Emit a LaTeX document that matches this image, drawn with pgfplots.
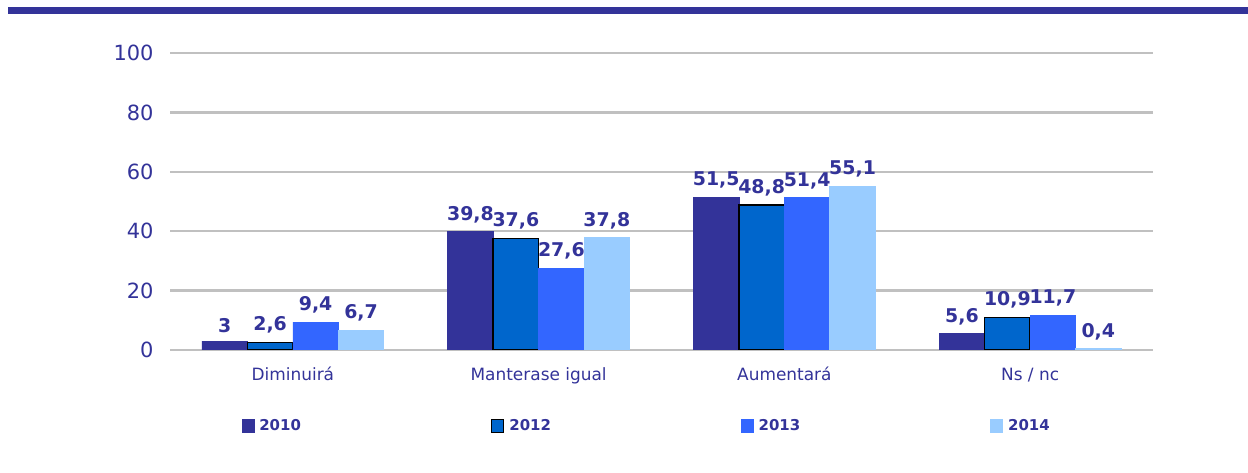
\documentclass[border=0pt]{standalone}
\usepackage{fontspec}
\setmainfont{DejaVu Sans}
\usepackage{pgfplots}
\pgfplotsset{compat=1.18}
\definecolor{cA}{HTML}{333399}
\definecolor{cB}{HTML}{0066CC}
\definecolor{cC}{HTML}{3366FF}
\definecolor{cD}{HTML}{99CCFF}
\definecolor{gridc}{HTML}{C0C0C0}
\begin{document}
\begin{tikzpicture}[x=1bp,y=1bp]
\useasboundingbox (0,0) rectangle (1248,473);
\fill[cA] (8,459) rectangle (1248,466);
\begin{axis}[
  at={(170bp,123bp)}, anchor=south west,
  scale only axis, width=983bp, height=297bp,
  xmin=-0.5, xmax=3.5, ymin=0, ymax=100,
  ybar=0pt,
  ytick={0,20,40,60,80,100},
  xtick={0,1,2,3},
  xticklabels={Diminuirá, Manterase igual, Aumentará, Ns / nc},
  ymajorgrids, grid style={line width=2.5bp, color=gridc},
  axis line style={draw=none},
  major tick length=0pt,
  /pgf/number format/assume math mode=true,
  yticklabel style={font=\fontsize{21}{21}\selectfont, text=cA, xshift=-13bp},
  xticklabel style={font=\fontsize{17}{17}\selectfont, text=cA, text height=13bp, text depth=4bp, yshift=-14bp},
  bar width=0.185,
  nodes near coords,
  nodes near coords style={font=\bfseries\fontsize{19}{19}\selectfont, text=cA, yshift=5bp,
     /pgf/number format/use comma, /pgf/number format/fixed, /pgf/number format/precision=1},
  legend image code/.code={\draw[#1,/tikz/.cd] (0bp,-6.5bp) rectangle (12bp,6.5bp);},
  legend columns=4,
  legend style={at={(0.485,-0.256)}, anchor=center, draw=none, fill=none,
     font=\bfseries\fontsize{15}{15}\selectfont, text=cA,
     /tikz/every odd column/.append style={column sep=3bp},
     /tikz/every even column/.append style={column sep=188bp}},
]
\addplot[bar shift=-0.2775, fill=cA, draw=cA, line width=0.6bp] coordinates {(0,3) (1,39.8) (2,51.5) (3,5.6)};
\addlegendentry{2010}
\addplot[bar shift=-0.0925, fill=cB, draw=black, line width=1.5bp] coordinates {(0,2.6) (1,37.6) (2,48.8) (3,10.9)};
\addlegendentry{2012}
\addplot[bar shift=0.0925, fill=cC, draw=cC, line width=0.6bp] coordinates {(0,9.4) (1,27.6) (2,51.4) (3,11.7)};
\addlegendentry{2013}
\addplot[bar shift=0.2775, fill=cD, draw=cD, line width=1bp] coordinates {(0,6.7) (1,37.8) (2,55.1) (3,0.4)};
\addlegendentry{2014}
\end{axis}
\end{tikzpicture}
\end{document}
